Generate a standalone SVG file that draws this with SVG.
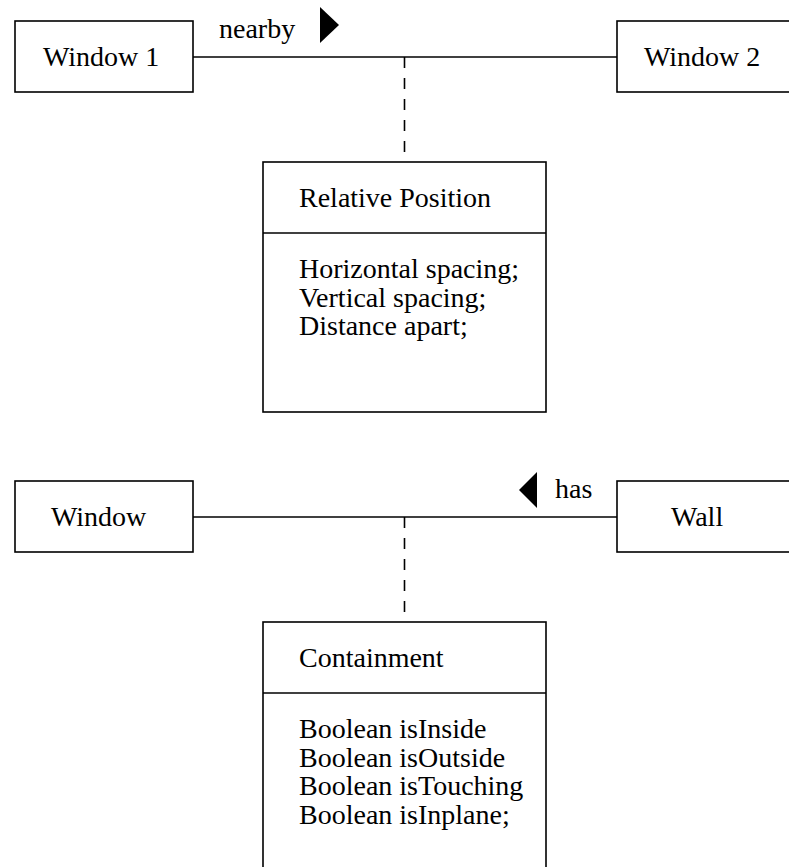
<svg xmlns="http://www.w3.org/2000/svg" width="789" height="867" viewBox="0 0 789 867">
<style>
.box{fill:#fff;stroke:#000;stroke-width:1.6}
.ln{stroke:#000;stroke-width:1.6;fill:none}
.dash{stroke:#000;stroke-width:1.6;fill:none;stroke-dasharray:11 10}
text{font-family:"Liberation Serif","Times New Roman",serif;font-size:28px;fill:#000}
</style>
<rect width="789" height="867" fill="#fff"/>
<g id="connectors">
<line class="ln" x1="193" y1="57" x2="617" y2="57"/>
<line class="dash" x1="404.5" y1="57" x2="404.5" y2="152"/>
<line class="ln" x1="193" y1="517" x2="617" y2="517"/>
<line class="dash" x1="404.5" y1="517" x2="404.5" y2="612"/>
<text x="219" y="38">nearby</text>
<polygon points="320,7 339,25 320,43" fill="#000"/>
<text x="555" y="498">has</text>
<polygon points="537,472 519,490 537,508" fill="#000"/>
</g>
<g id="window1">
<rect class="box" x="15" y="21" width="178" height="71"/>
<text x="43" y="66">Window 1</text>
</g>
<g id="window2">
<rect class="box" x="617" y="21" width="190" height="71"/>
<text x="644" y="66">Window 2</text>
</g>
<g id="relativePosition">
<rect class="box" x="263" y="162" width="283" height="250"/>
<line class="ln" x1="263" y1="233" x2="546" y2="233"/>
<text x="299" y="207">Relative Position</text>
<text x="299" y="278">Horizontal spacing;</text>
<text x="299" y="306.5">Vertical spacing;</text>
<text x="299" y="335">Distance apart;</text>
</g>
<g id="window">
<rect class="box" x="15" y="481" width="178" height="71"/>
<text x="51" y="526">Window</text>
</g>
<g id="wall">
<rect class="box" x="617" y="481" width="190" height="71"/>
<text x="671" y="526">Wall</text>
</g>
<g id="containment">
<rect class="box" x="263" y="622" width="283" height="260"/>
<line class="ln" x1="263" y1="693" x2="546" y2="693"/>
<text x="299" y="667">Containment</text>
<text x="299" y="738">Boolean isInside</text>
<text x="299" y="766.5">Boolean isOutside</text>
<text x="299" y="795">Boolean isTouching</text>
<text x="299" y="823.5">Boolean isInplane;</text>
</g>
</svg>
